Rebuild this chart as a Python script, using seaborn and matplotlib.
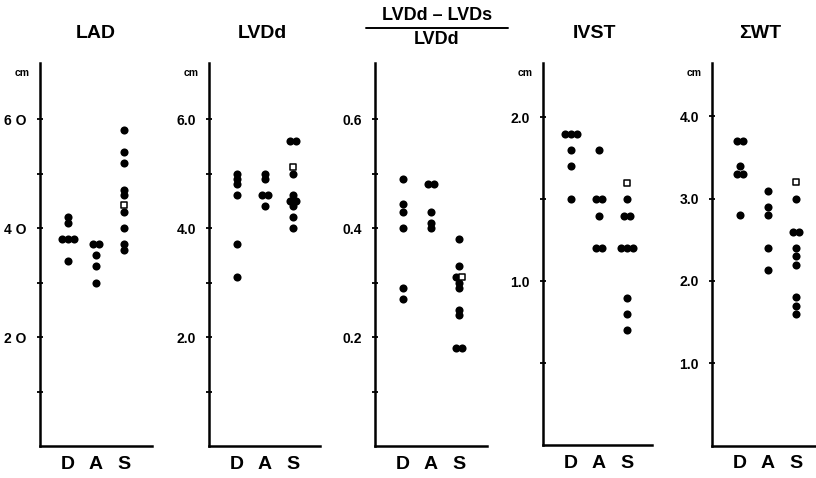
import numpy as np
import pandas as pd
import matplotlib
matplotlib.use("Agg")
import matplotlib.pyplot as plt
import seaborn as sns
from matplotlib.lines import Line2D

# ---------------- data ----------------
groups = ["D", "A", "S"]

lad_D = [4.2, 4.1, 3.8, 3.8, 3.8, 3.4]
lad_A = [3.7, 3.7, 3.5, 3.3, 3.0]
lad_S = [5.8, 5.4, 5.2, 4.7, 4.6, 4.3, 4.0, 3.7, 3.6]
lad_mean_S = 4.42

lvdd_D = [5.0, 4.9, 4.8, 4.6, 3.7, 3.1]
lvdd_A = [5.0, 4.9, 4.6, 4.6, 4.4]
lvdd_S = [5.6, 5.6, 5.0, 4.6, 4.5, 4.5, 4.4, 4.2, 4.0]
lvdd_mean_S = 5.13

fs_D = [0.49, 0.445, 0.43, 0.40, 0.29, 0.27]
fs_A = [0.48, 0.48, 0.43, 0.41, 0.40]
fs_S = [0.38, 0.33, 0.31, 0.30, 0.29, 0.25, 0.24, 0.18, 0.18]
fs_mean_S = 0.31

ivst_D = [1.9, 1.9, 1.9, 1.8, 1.7, 1.5]
ivst_A = [1.8, 1.5, 1.5, 1.4, 1.2, 1.2]
ivst_S = [1.5, 1.4, 1.4, 1.2, 1.2, 1.2, 0.9, 0.8, 0.7]
ivst_mean_S = 1.6

wt_D = [3.7, 3.7, 3.4, 3.3, 3.3, 2.8]
wt_A = [3.1, 2.9, 2.8, 2.4, 2.13]
wt_S = [3.0, 2.6, 2.6, 2.4, 2.3, 2.2, 1.8, 1.7, 1.6]
wt_mean_S = 3.2

titles = ["LAD", "LVDd", None, "IVST", "ΣWT"]
frac_num = "LVDd – LVDs"
frac_den = "LVDd"

lad_ticks = [2, 4, 6]
lad_ticklabels = ["2 O", "4 O", "6 O"]
lvdd_ticks = [2, 4, 6]
lvdd_ticklabels = ["2.0", "4.0", "6.0"]
fs_ticks = [0.2, 0.4, 0.6]
fs_ticklabels = ["0.2", "0.4", "0.6"]
ivst_ticks = [1.0, 2.0]
ivst_ticklabels = ["1.0", "2.0"]
wt_ticks = [1, 2, 3, 4]
wt_ticklabels = ["1.0", "2.0", "3.0", "4.0"]

lad_minor = [1, 3, 5]
lvdd_minor = [1, 3, 5]
fs_minor = [0.1, 0.3, 0.5]
ivst_minor = [0.5, 1.5]
wt_minor = []

units = ["cm", "cm", None, "cm", "cm"]

panels = [
    (lad_D, lad_A, lad_S, lad_mean_S, lad_ticks, lad_ticklabels, lad_minor),
    (lvdd_D, lvdd_A, lvdd_S, lvdd_mean_S, lvdd_ticks, lvdd_ticklabels, lvdd_minor),
    (fs_D, fs_A, fs_S, fs_mean_S, fs_ticks, fs_ticklabels, fs_minor),
    (ivst_D, ivst_A, ivst_S, ivst_mean_S, ivst_ticks, ivst_ticklabels, ivst_minor),
    (wt_D, wt_A, wt_S, wt_mean_S, wt_ticks, wt_ticklabels, wt_minor),
]

# ---------------- layout (pixels) ----------------
W, H = 816, 478
sns.set_style("white")
plt.rcParams["font.family"] = ["Liberation Sans", "DejaVu Sans"]
plt.rcParams["font.weight"] = "bold"
for key in ["text.color", "axes.labelcolor", "xtick.color", "ytick.color", "axes.edgecolor"]:
    plt.rcParams[key] = "black"

fig = plt.figure(figsize=(W / 100, H / 100), dpi=100)

# (left, right, y-pixel of zero, y-pixel of top, ylim_top)
frames = [
    (40, 152, 446.0, 63, 7.03),
    (209, 320, 446.0, 63, 7.03),
    (375, 487, 446.0, 63, 0.703),
    (543, 652, 445.3, 63, 2.33),
    (712, 816, 445.5, 63, 4.65),
]
title_x = [96, 262, 437, 595, 760]
spacing_px = 28.0

for i, (frame, pdata) in enumerate(zip(frames, panels)):
    left, right, y0, ytop, ymax = frame
    vD, vA, vS, mS, ticks, ticklabels, minor = pdata
    ax = fig.add_axes([left / W, 1 - y0 / H, (right - left) / W, (y0 - ytop) / H])

    rows = []
    for gi, (g, vals) in enumerate(zip(groups, [vD, vA, vS])):
        for v in vals:
            rows.append((g, gi, v, "dot"))
    rows.append(("S", 2, mS, "mean"))
    df = pd.DataFrame(rows, columns=["group", "gi", "value", "kind"])
    key = df["value"].round(3).astype(str) + "_" + df["group"]
    n = df.groupby(key)["value"].transform("size")
    k = df.groupby(key).cumcount()
    df["x"] = df["gi"] + (k - (n - 1) / 2) * 0.2

    dots = df[df["kind"] == "dot"]
    means = df[df["kind"] == "mean"]
    sns.scatterplot(data=dots, x="x", y="value", ax=ax, color="black",
                    s=34, linewidth=0, legend=False, zorder=3)
    sns.scatterplot(data=means, x="x", y="value", ax=ax, marker="s",
                    facecolor="white", edgecolor="black", s=22, linewidth=1.1,
                    legend=False, zorder=4)

    width_px = right - left
    ax.set_xlim(-1.0, -1.0 + width_px / spacing_px)
    ax.set_ylim(0, ymax)
    ax.set_xlabel("")
    ax.set_ylabel("")
    ax.set_xticks([0, 1, 2])
    ax.set_xticklabels(groups, fontsize=14, fontweight="bold")
    ax.tick_params(axis="x", length=0, pad=7, colors="black")
    ax.set_yticks(ticks)
    ax.set_yticklabels(ticklabels, fontsize=10, fontweight="bold")
    ax.set_yticks(minor, minor=True)
    ax.tick_params(axis="y", which="both", left=True, direction="inout",
                   length=5, width=1.3, pad=7, colors="black")
    for s in ["top", "right"]:
        ax.spines[s].set_visible(False)
    for s in ["left", "bottom"]:
        ax.spines[s].set_linewidth(1.8)
        ax.spines[s].set_color("black")
    ax.set_facecolor("none")

    if units[i]:
        fig.text((left - 18) / W, 1 - 73 / H, units[i], ha="center", va="center",
                 fontsize=7.5, fontweight="bold")
    if titles[i]:
        fig.text(title_x[i] / W, 1 - 33 / H, titles[i], ha="center", va="center",
                 fontsize=14, fontweight="bold")

# fraction title
fig.text(title_x[2] / W, 1 - 16 / H, frac_num, ha="center", va="center",
         fontsize=13, fontweight="bold")
fig.text(title_x[2] / W, 1 - 40 / H, frac_den, ha="center", va="center",
         fontsize=13, fontweight="bold")
fig.add_artist(Line2D([366 / W, 508 / W], [1 - 28 / H, 1 - 28 / H],
                      color="black", linewidth=1.4))

fig.savefig("out.png", dpi=100, facecolor="white")
